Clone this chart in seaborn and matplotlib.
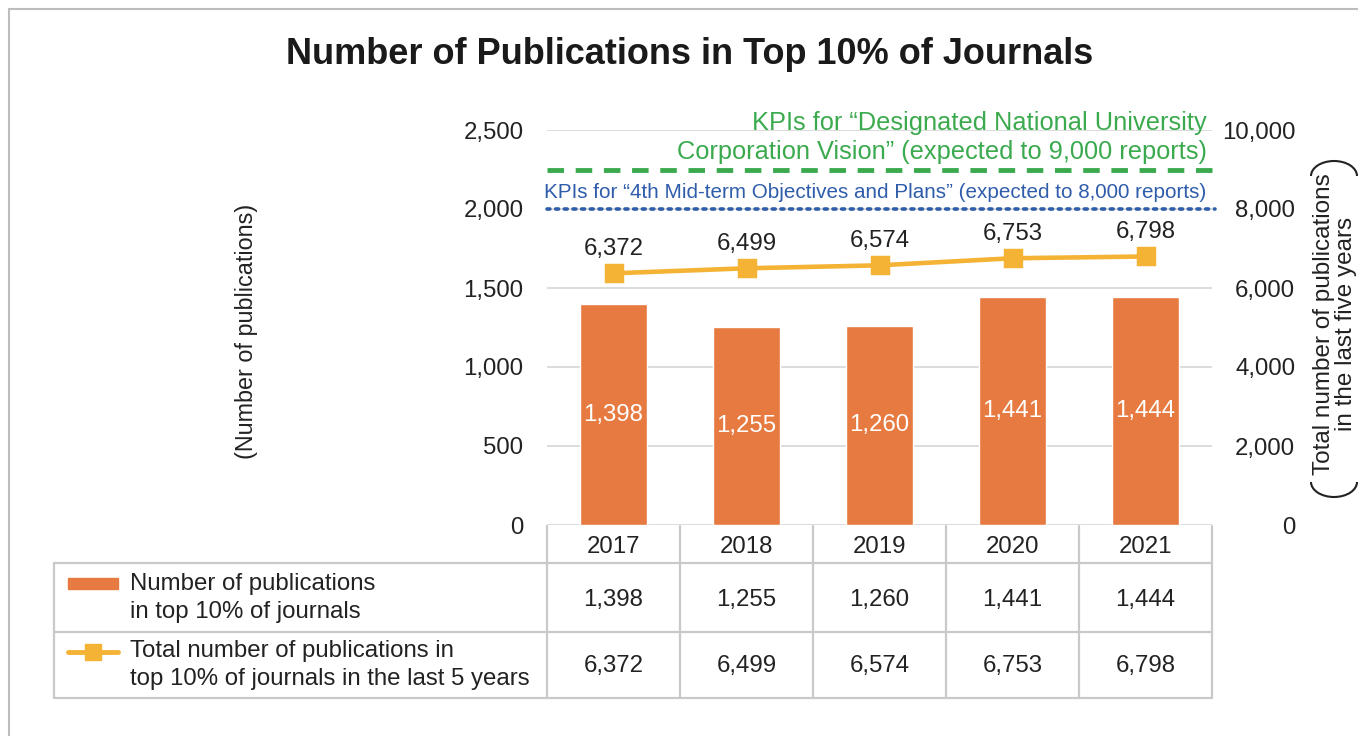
import matplotlib
matplotlib.use("Agg")
import matplotlib.pyplot as plt
import matplotlib.transforms as mtransforms
from matplotlib.lines import Line2D
from matplotlib.patches import Arc, Rectangle
import numpy as np
import seaborn as sns

# chart data
years = ["2017", "2018", "2019", "2020", "2021"]
top10_counts = [1398, 1255, 1260, 1441, 1444]
five_year_totals = [6372, 6499, 6574, 6753, 6798]
kpi_vision = 9000
kpi_midterm = 8000
left_ticks = [0, 500, 1000, 1500, 2000, 2500]
right_ticks = [0, 2000, 4000, 6000, 8000, 10000]

BAR_C = "#E67A40"
LINE_C = "#F5B335"
GREEN = "#3BAA4E"
BLUE = "#2F5DAB"
GRID_C = "#D9D9D9"
TABLE_C = "#C9C9C9"
TXT = "#222222"

W, H = 1358, 736
FS = 17.3

sns.set_theme(style="white")
plt.rcParams["font.family"] = ["Liberation Sans", "DejaVu Sans"]

fig = plt.figure(figsize=(W / 100, H / 100), dpi=100)
fig.patch.set_facecolor("white")

# main plot area in pixel terms
ax = fig.add_axes([547 / W, 1 - 525 / H, 665 / W, 395 / H])

sns.barplot(x=years, y=top10_counts, color=BAR_C, width=0.51,
            saturation=1, ax=ax, zorder=2)
ax.set_ylim(0, 2500)
ax.set_yticks(left_ticks)
ax.set_yticklabels([f"{v:,}" for v in left_ticks])
ax.tick_params(axis="y", length=0, pad=17, labelsize=FS, labelcolor=TXT)
ax.tick_params(axis="x", length=0, labelbottom=False)
ax.set_xlabel("")
ax.set_ylabel("")
ax.grid(axis="y", color=GRID_C, lw=1.3, zorder=0)
ax.set_axisbelow(True)
for s in ax.spines.values():
    s.set_visible(False)

for i, v in enumerate(top10_counts):
    ax.text(i, v / 2, f"{v:,}", color="white", ha="center", va="center",
            fontsize=FS, zorder=3)

ax2 = ax.twinx()
sns.pointplot(x=years, y=five_year_totals, color=LINE_C, markers="s",
              markersize=11, linewidth=3.3, ax=ax2, zorder=4)
ax2.set_ylim(0, 10000)
ax2.set_xlim(-0.5, 4.5)
ax2.set_yticks(right_ticks)
ax2.set_yticklabels([f"{v:,}" for v in right_ticks])
ax2.tick_params(axis="y", length=0, pad=60, labelsize=FS, labelcolor=TXT)
for lab in ax2.get_yticklabels():
    lab.set_horizontalalignment("right")
ax2.set_ylabel("")
ax2.set_xlabel("")
for s in ax2.spines.values():
    s.set_visible(False)

for i, v in enumerate(five_year_totals):
    ax2.annotate(f"{v:,}", (i, v), xytext=(0, 17.5), textcoords="offset points",
                 ha="center", va="center", fontsize=FS, color=TXT)

# KPI reference lines
ax2.plot([-0.5, 4.52], [kpi_vision] * 2, color=GREEN, lw=3.5,
         ls=(0, (3.4, 2.4)), clip_on=False, zorder=3)
ax2.plot([-0.5, 4.52], [kpi_midterm] * 2, color=BLUE, lw=2.6,
         ls=(0, (0.8, 1.6)), dash_capstyle="round", clip_on=False, zorder=3)
ax2.text(4.46, 9820, "KPIs for \u201cDesignated National University\n"
         "Corporation Vision\u201d (expected to 9,000 reports)",
         ha="right", va="center", color=GREEN, fontsize=18.3,
         linespacing=1.26)
ax2.text(4.46, 8430, "KPIs for \u201c4th Mid-term Objectives and Plans\u201d "
         "(expected to 8,000 reports)", ha="right", va="center", color=BLUE,
         fontsize=14.9)

# data table under the plot
blend = mtransforms.blended_transform_factory(ax.transData, ax.transAxes)


def fy(py):
    return (525 - py) / 395


def fx(px):
    return (px - 547) / 665


table_kw = dict(color=TABLE_C, lw=1.6, clip_on=False, zorder=1)
for py in (563, 632, 698):
    ax.add_line(Line2D([fx(54), 1], [fy(py)] * 2, transform=ax.transAxes,
                       **table_kw))
ax.add_line(Line2D([fx(54)] * 2, [fy(563), fy(698)], transform=ax.transAxes,
                   **table_kw))
for edge in np.arange(len(years) + 1) - 0.5:
    ax.add_line(Line2D([edge, edge], [fy(526), fy(698)], transform=blend,
                       **table_kw))

for i, yr in enumerate(years):
    ax.text(i, fy(547), yr, transform=blend, ha="center", va="center",
            fontsize=FS, color=TXT)
    ax.text(i, fy(600), f"{top10_counts[i]:,}", transform=blend,
            ha="center", va="center", fontsize=FS, color=TXT)
    ax.text(i, fy(666), f"{five_year_totals[i]:,}", transform=blend,
            ha="center", va="center", fontsize=FS, color=TXT)

ax.add_patch(Rectangle((fx(68), fy(589)), fx(118) - fx(68), 11 / 395,
                       transform=ax.transAxes, color=BAR_C, clip_on=False))
ax.text(fx(130), fy(598), "Number of publications\nin top 10% of journals",
        transform=ax.transAxes, ha="left", va="center", fontsize=FS,
        color=TXT, linespacing=1.33)
ax.add_line(Line2D([fx(68), fx(118)], [fy(652)] * 2, transform=ax.transAxes,
                   color=LINE_C, lw=3.5, clip_on=False))
ax.add_line(Line2D([fx(93)], [fy(652)], transform=ax.transAxes, color=LINE_C,
                   marker="s", markersize=11, clip_on=False))
ax.text(fx(130), fy(665), "Total number of publications in\n"
        "top 10% of journals in the last 5 years", transform=ax.transAxes,
        ha="left", va="center", fontsize=FS, color=TXT, linespacing=1.33)

# titles and axis captions
fig.text(690 / W, 1 - 55 / H, "Number of Publications in Top 10% of Journals",
         ha="center", va="center", fontsize=26, fontweight="bold",
         color="#1a1a1a")
fig.text(246 / W, 1 - 331 / H, "(Number of publications)", rotation=90,
         ha="center", va="center", fontsize=16.8, color=TXT)
fig.text(1335 / W, 1 - 324 / H, "Total number of publications\n"
         "in the last five years", rotation=90, ha="center", va="center",
         fontsize=17.5, color=TXT, linespacing=1.0)
fig.add_artist(Arc((1334 / W, 1 - 176 / H), 46 / W, 30 / H, theta1=0,
                   theta2=180, transform=fig.transFigure, color=TXT, lw=1.5))
fig.add_artist(Arc((1334 / W, 1 - 482 / H), 46 / W, 30 / H, theta1=180,
                   theta2=360, transform=fig.transFigure, color=TXT, lw=1.5))

# outer frame (top and left edges visible)
fig.add_artist(Line2D([9 / W, 1], [1 - 9 / H] * 2, color="#BDBDBD", lw=1.5))
fig.add_artist(Line2D([9 / W] * 2, [0, 1 - 9 / H], color="#BDBDBD", lw=1.5))

fig.savefig("out.png", dpi=100, facecolor="white")
